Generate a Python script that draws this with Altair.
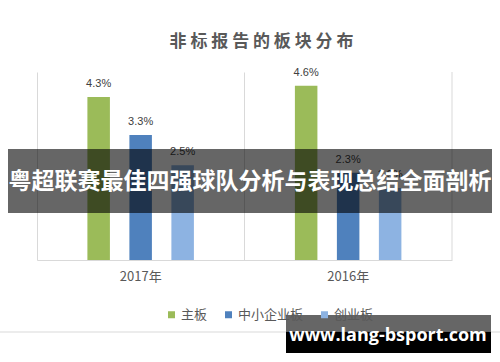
import altair as alt
import pandas as pd

years = ["2017年", "2016年"]
series = ["主板", "中小企业板", "创业板"]
values_2017 = [4.3, 3.3, 2.5]
values_2016 = [4.6, 2.3, 1.9]
colors = ["#9bbb59", "#4f81bd", "#8db3e2"]
title_text = "非 标 报 告 的 板 块 分 布"
banner_text = "粤超联赛最佳四强球队分析与表现总结全面剖析"
watermark_text = "www.lang-bsport.com"

rows = []
for y, vals in zip(years, [values_2017, values_2016]):
    for s, v in zip(series, vals):
        rows.append({"year": y, "series": s, "value": v, "label": f"{v:.1f}%"})
df = pd.DataFrame(rows)

FONT = "Noto Sans CJK SC"
GRAY = "#d9d9d9"

x_enc = alt.X("year:N", sort=years, title=None,
              scale=alt.Scale(paddingInner=0, paddingOuter=0),
              axis=alt.Axis(grid=True, gridColor=GRAY, bandPosition=0, ticks=False,
                            domainColor=GRAY, labelFontSize=13, labelColor="#595959",
                            labelPadding=10, labelFont=FONT, labelAngle=0))
xo_enc = alt.XOffset("series:N", sort=series,
                     scale=alt.Scale(paddingInner=0.464, paddingOuter=0, range=[50.4, 156.9]))
y_enc = alt.Y("value:Q", scale=alt.Scale(domain=[0, 4.96]), axis=None)

base = alt.Chart(df)
bars = base.mark_bar().encode(
    x=x_enc, xOffset=xo_enc, y=y_enc,
    color=alt.Color("series:N", sort=series,
                    scale=alt.Scale(domain=series, range=colors),
                    legend=alt.Legend(title=None, orient="none", direction="horizontal",
                                      legendX=128, legendY=236, symbolType="square",
                                      symbolSize=49, symbolStrokeWidth=0,
                                      labelFontSize=13, labelColor="#595959",
                                      labelFont=FONT, columnPadding=14, labelOffset=3,
                                      padding=0)),
)
labels = base.mark_text(dy=-13, fontSize=11, color="#404040", font="Liberation Sans").encode(
    x=x_enc, xOffset=xo_enc, y=y_enc, text="label:N"
)

ann = pd.DataFrame({"k": [0]})
a = alt.Chart(ann)
right_edge = a.mark_rule(color=GRAY, strokeWidth=1).encode(
    x=alt.value(415), y=alt.value(0), y2=alt.value(188))
bottom_line = a.mark_rule(color=GRAY, strokeWidth=1).encode(
    x=alt.value(-37), x2=alt.value(463), y=alt.value(260))
banner = a.mark_rect(color="black", opacity=0.6).encode(
    x=alt.value(-29), x2=alt.value(455), y=alt.value(77), y2=alt.value(141))
banner_t = a.mark_text(color="white", fontSize=23, fontWeight="bold", font=FONT,
                       text=banner_text).encode(x=alt.value(213), y=alt.value(110))
wm1 = a.mark_rect(color="black", opacity=0.6).encode(
    x=alt.value(249), x2=alt.value(454), y=alt.value(243), y2=alt.value(260))
wm2 = a.mark_rect(color="black", opacity=1).encode(
    x=alt.value(249), x2=alt.value(454), y=alt.value(260), y2=alt.value(281))
wm_t = a.mark_text(color="white", fontSize=18, fontWeight="bold", font="Open Sans",
                   text=watermark_text).encode(x=alt.value(351), y=alt.value(264))

chart = alt.layer(bars, labels, right_edge, bottom_line, banner, banner_t, wm1, wm2, wm_t).properties(
    width=415, height=188,
    autosize=alt.AutoSizeParams(type="none"),
    padding={"left": 37, "top": 72, "right": 48, "bottom": 102},
    background="white",
    title=alt.TitleParams(title_text, anchor="middle", dx=17, offset=16,
                          fontSize=17, fontWeight="bold", color="#595959", font=FONT),
).configure_view(stroke=None)

chart.save("out.html", embed_options={"renderer": "svg", "actions": False})
